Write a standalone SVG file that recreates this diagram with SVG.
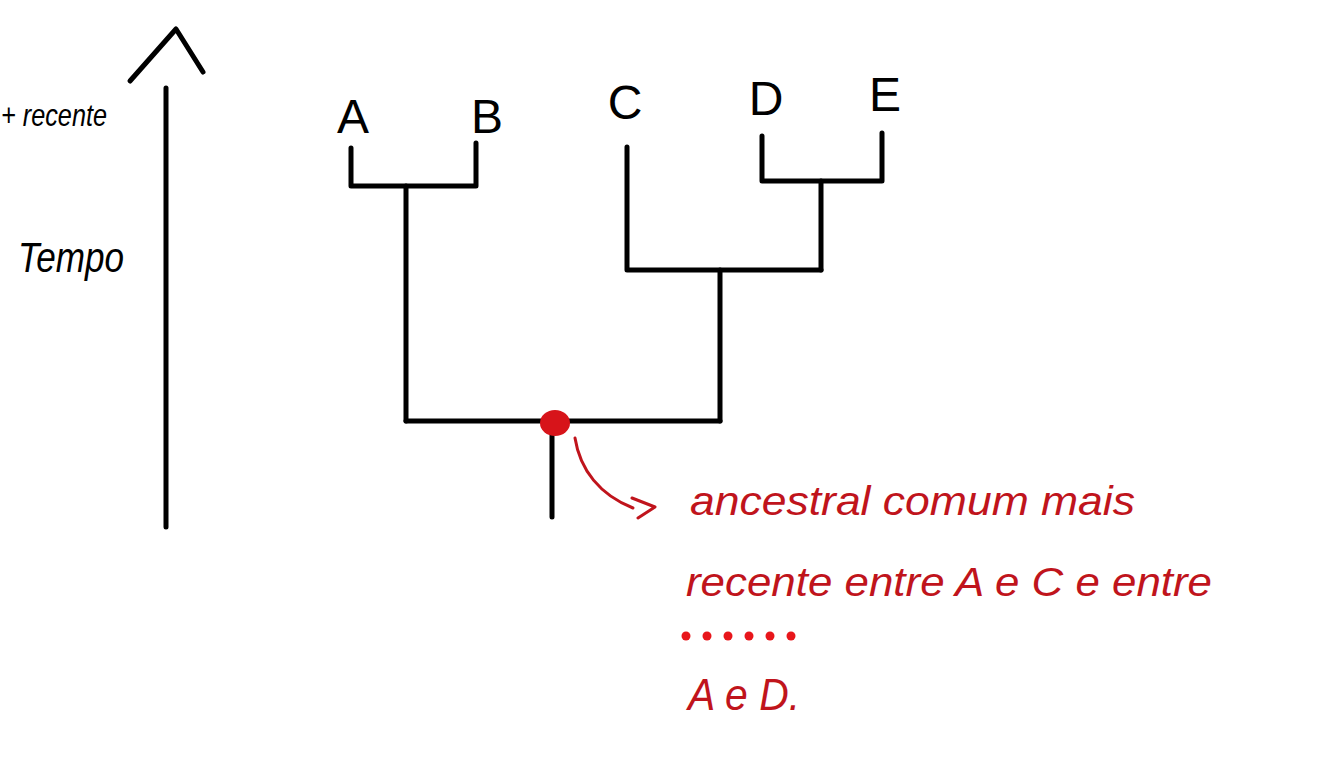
<svg xmlns="http://www.w3.org/2000/svg" width="1334" height="774" viewBox="0 0 1334 774">
<style>
.k{stroke:#000;stroke-width:5;fill:none;stroke-linecap:round;stroke-linejoin:round}
.r{stroke:#c0141c;stroke-width:3;fill:none;stroke-linecap:round;stroke-linejoin:round}
.lbl{font-family:"Liberation Sans",Arial,sans-serif;fill:#000}
.note{font-family:"Liberation Sans",Arial,sans-serif;fill:#c0141c;font-style:italic}
.dot{fill:#e8161b}
</style>
<rect width="1334" height="774" fill="#fff"/>
<g id="time-axis">
<path class="k" d="M166 88 L166 527"/>
<path class="k" d="M130 81 L176 29 L203 72"/>
<text class="lbl" x="1" y="126" font-size="32" textLength="106" lengthAdjust="spacingAndGlyphs" font-style="italic">+ recente</text>
<text class="lbl" x="18" y="272" font-size="42" textLength="106" lengthAdjust="spacingAndGlyphs" font-style="italic">Tempo</text>
</g>
<g id="connectors">
<path class="k" d="M351 148 L351 186 L476 186 L476 143"/>
<path class="k" d="M406 186 L406 421"/>
<path class="k" d="M762 136 L762 181 L882 181 L882 133"/>
<path class="k" d="M821 181 L821 270"/>
<path class="k" d="M627 147 L627 270 L821 270"/>
<path class="k" d="M720 270 L720 421"/>
<path class="k" d="M406 421 L720 421"/>
<path class="k" d="M552 421 L552 517"/>
</g>
<g id="node-A"><text class="lbl" x="353" y="133" font-size="48" text-anchor="middle">A</text></g>
<g id="node-B"><text class="lbl" x="487" y="133" font-size="48" text-anchor="middle">B</text></g>
<g id="node-C"><text class="lbl" x="625" y="119" font-size="48" text-anchor="middle">C</text></g>
<g id="node-D"><text class="lbl" x="766" y="115" font-size="48" text-anchor="middle">D</text></g>
<g id="node-E"><text class="lbl" x="885" y="111" font-size="48" text-anchor="middle">E</text></g>
<g id="ancestor">
<ellipse cx="555" cy="423" rx="15" ry="13" fill="#d7141a"/>
</g>
<g id="annotation">
<path class="r" d="M575 438 C580 470 600 495 633 508"/>
<path class="r" d="M632 498 L655 507 L638 518"/>
<text class="note" x="690" y="515" font-size="40" textLength="445" lengthAdjust="spacingAndGlyphs">ancestral comum mais</text>
<text class="note" x="686" y="596" font-size="40" textLength="526" lengthAdjust="spacingAndGlyphs">recente entre A e C e entre</text>
<circle class="dot" cx="686" cy="636" r="4.5"/>
<circle class="dot" cx="707" cy="636" r="4.5"/>
<circle class="dot" cx="728" cy="636" r="4.5"/>
<circle class="dot" cx="749" cy="636" r="4.5"/>
<circle class="dot" cx="770" cy="636" r="4.5"/>
<circle class="dot" cx="791" cy="636" r="4.5"/>
<text class="note" x="688" y="710" font-size="44" textLength="112" lengthAdjust="spacingAndGlyphs">A e D.</text>
</g>
</svg>
